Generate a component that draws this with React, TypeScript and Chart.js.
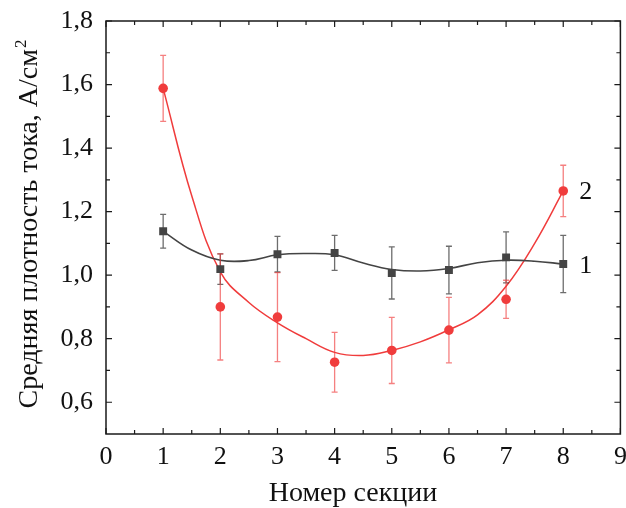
import React, { useEffect, useRef } from 'react';
import { Chart, registerables } from 'chart.js';

Chart.register(...registerables);

// ---- data ----
const sections = [1, 2, 3, 4, 5, 6, 7, 8];
const density1 = [1.138, 1.019, 1.066, 1.07, 1.007, 1.016, 1.056, 1.035];
const error1 = [0.053, 0.048, 0.056, 0.055, 0.082, 0.075, 0.08, 0.09];
const density2 = [1.588, 0.9, 0.868, 0.726, 0.763, 0.827, 0.924, 1.265];
const error2 = [0.104, 0.167, 0.14, 0.094, 0.104, 0.103, 0.06, 0.081];

// smooth fit curves
const curveX = [1, 1.5, 2, 2.5, 3, 3.5, 4, 4.5, 5, 5.5, 6, 6.5, 7, 7.5, 8];
const curve1Y = [1.138, 1.079, 1.047, 1.046, 1.064, 1.068, 1.064, 1.038, 1.018, 1.013, 1.021, 1.039, 1.047, 1.044, 1.035];
const curve2Y = [1.588, 1.25, 1.01, 0.914, 0.85, 0.8, 0.757, 0.747, 0.763, 0.79, 0.828, 0.875, 0.965, 1.1, 1.265];

const xMajorTicks = [0, 1, 2, 3, 4, 5, 6, 7, 8, 9];
const xMinorTicks = [0.5, 1.5, 2.5, 3.5, 4.5, 5.5, 6.5, 7.5, 8.5];
const yMajorTicks = [0.6, 0.8, 1.0, 1.2, 1.4, 1.6, 1.8];
const yMinorTicks = [0.7, 0.9, 1.1, 1.3, 1.5, 1.7];
const seriesLabels = ['1', '2'];

const xTitle = 'Номер секции';
const yTitle = 'Средняя плотность тока, А/см';
const yTitleSup = '2';

const RED = '#f03c3c';
const DARK = '#444444';
const FONT = '"Liberation Serif", "Times New Roman", serif';

const pts = (xs: number[], ys: number[]) => xs.map((x, i) => ({ x, y: ys[i] }));

const decorPlugin = {
  id: 'decor',
  beforeDatasetDraw(chart: any, args: any) {
    if (args.index !== 1) return;
    const ctx = chart.ctx;
    const xs = chart.scales.x;
    const ys = chart.scales.y;
    const drawBars = (vals: number[], errs: number[], color: string) => {
      ctx.save();
      ctx.strokeStyle = color;
      ctx.lineWidth = 1.3;
      sections.forEach((s, i) => {
        const px = xs.getPixelForValue(s);
        const top = ys.getPixelForValue(vals[i] + errs[i]);
        const bot = ys.getPixelForValue(vals[i] - errs[i]);
        ctx.beginPath();
        ctx.moveTo(px, top);
        ctx.lineTo(px, bot);
        ctx.moveTo(px - 3, top);
        ctx.lineTo(px + 3, top);
        ctx.moveTo(px - 3, bot);
        ctx.lineTo(px + 3, bot);
        ctx.stroke();
      });
      ctx.restore();
    };
    drawBars(density1, error1, 'rgba(60,60,60,0.75)');
    drawBars(density2, error2, 'rgba(240,60,60,0.65)');
  },
  afterDraw(chart: any) {
    const ctx = chart.ctx;
    const a = chart.chartArea;
    const xs = chart.scales.x;
    const ys = chart.scales.y;
    ctx.save();
    // frame
    ctx.strokeStyle = '#1a1a1a';
    ctx.lineWidth = 1.5;
    ctx.strokeRect(a.left, a.top, a.right - a.left, a.bottom - a.top);
    ctx.lineWidth = 1.2;
    ctx.beginPath();
    const xt = (v: number, len: number) => {
      const p = xs.getPixelForValue(v);
      ctx.moveTo(p, a.bottom);
      ctx.lineTo(p, a.bottom - len);
      ctx.moveTo(p, a.top);
      ctx.lineTo(p, a.top + len);
    };
    const yt = (v: number, len: number) => {
      const p = ys.getPixelForValue(v);
      ctx.moveTo(a.left, p);
      ctx.lineTo(a.left + len, p);
      ctx.moveTo(a.right, p);
      ctx.lineTo(a.right - len, p);
    };
    xMajorTicks.forEach((v) => xt(v, 6));
    xMinorTicks.forEach((v) => xt(v, 4));
    yMajorTicks.forEach((v) => yt(v, 6));
    yMinorTicks.forEach((v) => yt(v, 4));
    ctx.stroke();

    // series labels
    ctx.fillStyle = '#111';
    ctx.font = `26px ${FONT}`;
    ctx.textAlign = 'left';
    ctx.textBaseline = 'alphabetic';
    const lx = xs.getPixelForValue(sections[sections.length - 1]) + 16;
    ctx.fillText(seriesLabels[0], lx, ys.getPixelForValue(density1[density1.length - 1]) + 9);
    ctx.fillText(seriesLabels[1], lx, ys.getPixelForValue(density2[density2.length - 1]) + 8);

    // x title
    ctx.font = `28px ${FONT}`;
    ctx.textAlign = 'center';
    ctx.fillText(xTitle, 353, 501);

    // y title (rotated) with superscript
    ctx.font = `28px ${FONT}`;
    const mainW = ctx.measureText(yTitle).width;
    ctx.font = `17px ${FONT}`;
    const supW = ctx.measureText(yTitleSup).width;
    const total = mainW + supW + 1;
    ctx.translate(36.5, 224 + total / 2);
    ctx.rotate(-Math.PI / 2);
    ctx.textAlign = 'left';
    ctx.font = `28px ${FONT}`;
    ctx.fillText(yTitle, 0, 0);
    ctx.font = `17px ${FONT}`;
    ctx.fillText(yTitleSup, mainW + 1, -11);
    ctx.restore();
  },
};

export default function App() {
  const ref = useRef<HTMLCanvasElement | null>(null);
  useEffect(() => {
    if (!ref.current) return;
    const chart = new Chart(ref.current, {
      type: 'scatter',
      data: {
        datasets: [
          {
            label: 'points1',
            data: pts(sections, density1),
            showLine: false,
            pointStyle: 'rect',
            pointRadius: 5.6,
            pointBackgroundColor: DARK,
            pointBorderColor: DARK,
            pointBorderWidth: 0,
          },
          {
            label: 'points2',
            data: pts(sections, density2),
            showLine: false,
            pointStyle: 'circle',
            pointRadius: 4.8,
            pointBackgroundColor: RED,
            pointBorderColor: RED,
            pointBorderWidth: 0,
          },
          {
            label: 'fit1',
            data: pts(curveX, curve1Y),
            showLine: true,
            borderColor: DARK,
            borderWidth: 1.6,
            pointRadius: 0,
            tension: 0.4,
          },
          {
            label: 'fit2',
            data: pts(curveX, curve2Y),
            showLine: true,
            borderColor: RED,
            borderWidth: 1.5,
            pointRadius: 0,
            tension: 0.4,
          },
        ],
      } as any,
      options: {
        responsive: false,
        animation: false,
        devicePixelRatio: 1,
        layout: { padding: { top: 21, right: 4, left: 0, bottom: 0 } },
        plugins: { legend: { display: false }, tooltip: { enabled: false } },
        scales: {
          x: {
            type: 'linear',
            min: 0,
            max: 9,
            grid: { display: false },
            border: { display: false },
            afterBuildTicks: (s: any) => {
              s.ticks = xMajorTicks.map((v) => ({ value: v }));
            },
            afterFit: (s: any) => {
              s.height = 74;
              s.paddingLeft = 0;
              s.paddingRight = 0;
            },
            ticks: {
              color: '#111',
              font: { family: FONT, size: 26 },
              padding: 0,
              maxRotation: 0,
              callback: (v: any) => String(v),
            },
          },
          y: {
            type: 'linear',
            min: 0.5,
            max: 1.8,
            grid: { display: false },
            border: { display: false },
            afterBuildTicks: (s: any) => {
              s.ticks = yMajorTicks.map((v) => ({ value: v }));
            },
            afterFit: (s: any) => {
              s.width = 106;
              s.paddingTop = 0;
              s.paddingBottom = 0;
            },
            ticks: {
              color: '#111',
              font: { family: FONT, size: 26 },
              padding: 5,
              callback: (v: any) => Number(v).toFixed(1).replace('.', ','),
            },
          },
        },
      } as any,
      plugins: [decorPlugin],
    });
    return () => chart.destroy();
  }, []);
  return (
    <div style={{ position: 'absolute', left: 0, top: 0, width: 626, height: 508, background: '#fff' }}>
      <canvas ref={ref} width={626} height={508} />
    </div>
  );
}
